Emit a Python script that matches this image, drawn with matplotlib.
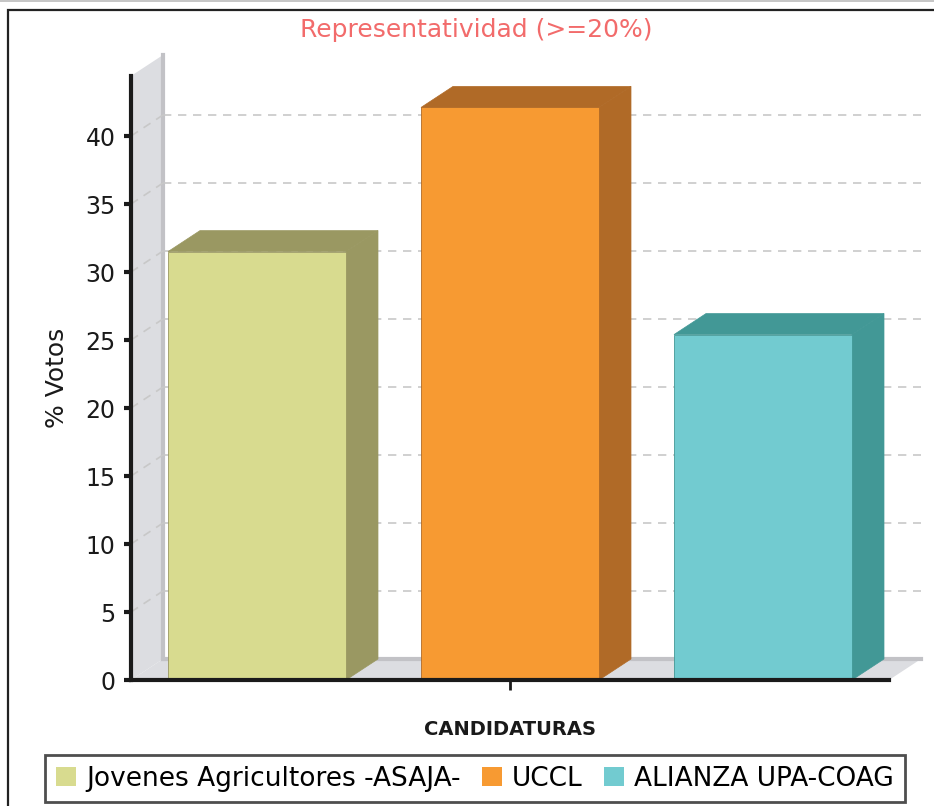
import numpy as np
import matplotlib.pyplot as plt
from matplotlib.patches import Polygon, Rectangle

# Datos
candidaturas = ['Jovenes Agricultores -ASAJA-', 'UCCL', 'ALIANZA UPA-COAG']
votos = [31.5, 42.1, 25.4]
colores = ['#d8db8f', '#f79a32', '#72cbd0']
colores_osc = ['#9a9862', '#b06a27', '#429896']
yticks = [0, 5, 10, 15, 20, 25, 30, 35, 40]

fuente = 'DejaVu Sans'

# Geometría en píxeles de la figura (934x806)
W, H = 934, 806
x_izq, x_der = 131, 889
y0, y_top = 680, 76
px_por_unidad = 13.6
px_cat = 253
cx0 = 257

fig = plt.figure(figsize=(W / 100, H / 100), dpi=100)
ax = fig.add_axes([x_izq / W, (H - y0) / H, (x_der - x_izq) / W, (y0 - y_top) / H])

xmin = -(cx0 - x_izq) / px_cat
xmax = xmin + (x_der - x_izq) / px_cat
ymax = (y0 - y_top) / px_por_unidad
ax.set_xlim(xmin, xmax)
ax.set_ylim(0, ymax)

# Desplazamiento de profundidad (3D)
dx = 32 / px_cat
dy = 21 / px_por_unidad

gris = '#dcdde1'
gris_linea = '#c2c2c6'

# Pared izquierda
ax.add_patch(Polygon([(xmin, 0), (xmin + dx, dy), (xmin + dx, ymax + dy), (xmin, ymax)],
                     closed=True, facecolor=gris, edgecolor='none', clip_on=False, zorder=1))
ax.plot([xmin + dx, xmin + dx], [dy, ymax + dy], color=gris_linea, lw=3, clip_on=False, zorder=1.1)

# Suelo
ax.add_patch(Polygon([(xmin, 0), (xmax, 0), (xmax + dx, dy), (xmin + dx, dy)],
                     closed=True, facecolor=gris, edgecolor='none', clip_on=False, zorder=1))
ax.plot([xmin + dx, xmax + dx], [dy, dy], color=gris_linea, lw=3, clip_on=False, zorder=1.1)

# Rejilla
for v in yticks[1:]:
    ax.plot([xmin + dx, xmax + dx], [v + dy, v + dy], color='#c8c8c8', lw=1.2,
            ls=(0, (5, 4)), clip_on=False, zorder=1.2)
    ax.plot([xmin, xmin + dx], [v, v + dy], color='#c8c8c8', lw=1.2,
            ls=(0, (5, 4)), clip_on=False, zorder=1.2)

# Barras 3D
ancho = 178 / px_cat
for i, (v, c, co) in enumerate(zip(votos, colores, colores_osc)):
    x0 = i - ancho / 2
    x1 = i + ancho / 2
    ax.add_patch(Polygon([(x1, 0), (x1 + dx, dy), (x1 + dx, v + dy), (x1, v)],
                         closed=True, facecolor=co, edgecolor=co, lw=0.5, zorder=3, clip_on=False))
    ax.add_patch(Polygon([(x0, v), (x1, v), (x1 + dx, v + dy), (x0 + dx, v + dy)],
                         closed=True, facecolor=co, edgecolor=co, lw=0.5, zorder=3, clip_on=False))
    ax.bar(i, v, width=ancho, color=c, edgecolor=co, linewidth=0.6, zorder=4, clip_on=False)

# Ejes
for s in ['top', 'right']:
    ax.spines[s].set_visible(False)
ax.spines['left'].set_linewidth(3)
ax.spines['left'].set_color('#1a1a1a')
ax.spines['bottom'].set_linewidth(3)
ax.spines['bottom'].set_color('#1a1a1a')
ax.spines['left'].set_zorder(5)
ax.spines['bottom'].set_zorder(5)
ax.set_facecolor('none')

ax.set_yticks(yticks)
ax.set_yticklabels([str(t) for t in yticks], fontsize=17, color='#1a1a1a', family=fuente)
ax.tick_params(axis='y', length=5, width=3, color='#1a1a1a', pad=6)
ax.set_xticks([1])
ax.set_xticklabels([''])
ax.tick_params(axis='x', length=7, width=2, color='#1a1a1a')

ax.set_ylabel('% Votos', fontsize=18, color='#1a1a1a', family=fuente, labelpad=12)
ax.set_xlabel('CANDIDATURAS', fontsize=14, fontweight='bold', color='#1a1a1a',
              family=fuente, labelpad=18)

# Título
fig.text(476 / W, 1 - 30 / H, 'Representatividad (>=20%)', ha='center', va='center',
         fontsize=18, color='#f26b6b', family=fuente)

# Marco exterior
fig.add_artist(Rectangle((8 / W, -0.05), 1.1, 1 - 10 / H + 0.05, transform=fig.transFigure,
                         facecolor='none', edgecolor='#222222', lw=1.6))
fig.add_artist(plt.Line2D([0, 1], [1 - 1 / H, 1 - 1 / H], transform=fig.transFigure,
                          color='#bbbbbb', lw=1.2))

# Leyenda
handles = [Rectangle((0, 0), 1, 1, facecolor=c, edgecolor='none') for c in colores]
leg = fig.legend(handles, candidaturas, loc='upper center', bbox_to_anchor=(475 / W, 1 - 755 / H),
                 ncol=3, frameon=True, fancybox=False,
                 prop={'family': fuente, 'size': 19},
                 handlelength=0.75, handleheight=0.75, handletextpad=0.4, columnspacing=0.8,
                 borderpad=0.4, borderaxespad=0)
leg.get_frame().set_edgecolor('#222222')
leg.get_frame().set_linewidth(2)

fig.savefig('out.png', dpi=100)
